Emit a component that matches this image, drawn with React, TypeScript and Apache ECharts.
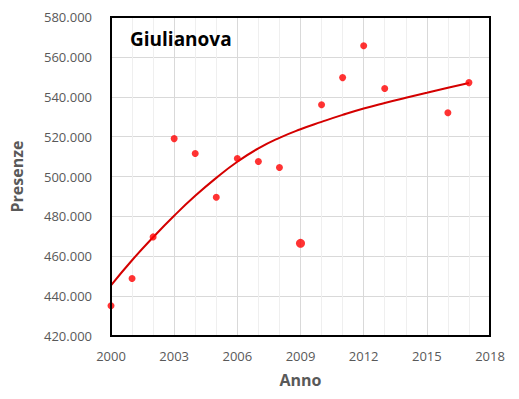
import React, { useEffect, useRef } from "react";
import * as echarts from "echarts";

const titleText = "Giulianova";
const xName = "Anno";
const yName = "Presenze";

const years = [2000, 2001, 2002, 2003, 2004, 2005, 2006, 2007, 2008, 2009, 2010, 2011, 2012, 2013, 2016, 2017];
const presenze = [435200, 448800, 469700, 519000, 511500, 489600, 509000, 507500, 504500, 466500, 536000, 549600, 565600, 544100, 532000, 547100];

const trendYears = [2000, 2001, 2002, 2003, 2004, 2005, 2006, 2007, 2008, 2009, 2010, 2011, 2012, 2013, 2014, 2015, 2016, 2017];
const trendValues = [445400, 458000, 469500, 480300, 490300, 499300, 507400, 514100, 519400, 523700, 527400, 530900, 534100, 536900, 539500, 542000, 544500, 546900];

const xMin = 2000, xMax = 2018, xStep = 3;
const yMin = 420000, yMax = 580000, yStep = 20000;

const fmt = (v: number) => String(v).replace(/\B(?=(\d{3})+(?!\d))/g, ".");

export default function App() {
  const ref = useRef<HTMLDivElement>(null);
  useEffect(() => {
    if (!ref.current) return;
    const chart = echarts.init(ref.current, undefined, { renderer: "svg" });
    const font = "'Open Sans', sans-serif";
    chart.setOption({
      animation: false,
      backgroundColor: "#ffffff",
      grid: { left: 111, top: 17, right: 29, bottom: 63, show: true, borderColor: "#000000", borderWidth: 2, backgroundColor: "transparent", z: 10 },
      graphic: [
        { type: "text", left: 130, top: 29, z: 100, style: { text: titleText, font: `bold 19px ${font}`, fill: "#000000" } },
      ],
      xAxis: {
        type: "value", min: xMin, max: xMax, interval: xStep,
        name: xName, nameLocation: "middle", nameGap: 36,
        nameTextStyle: { fontFamily: font, fontWeight: "bold", fontSize: 16, color: "#595959" },
        axisLine: { show: false }, axisTick: { show: false },
        axisLabel: { fontFamily: font, fontSize: 13, color: "#595959", margin: 13, formatter: (v: number) => String(v) },
        splitLine: { show: true, lineStyle: { color: "#d9d9d9", width: 1 } },
        minorTick: { show: false, splitNumber: 3 },
        minorSplitLine: { show: true, lineStyle: { color: "#efefef", width: 1 } },
      },
      yAxis: {
        type: "value", min: yMin, max: yMax, interval: yStep,
        name: yName, nameLocation: "middle", nameGap: 86,
        nameTextStyle: { fontFamily: font, fontWeight: "bold", fontSize: 16, color: "#595959" },
        axisLine: { show: false }, axisTick: { show: false },
        axisLabel: { fontFamily: font, fontSize: 13, color: "#595959", margin: 19, formatter: (v: number) => fmt(v) },
        splitLine: { show: true, lineStyle: { color: "#d9d9d9", width: 1 } },
      },
      series: [
        {
          type: "line", data: trendYears.map((y, i) => [y, trendValues[i]]),
          smooth: true, showSymbol: false, symbol: "none",
          lineStyle: { color: "#d40000", width: 2 }, z: 2, silent: true,
        },
        {
          type: "scatter", data: years.map((y, i) => ({ value: [y, presenze[i]], symbolSize: y === 2009 ? 9 : 7 })),
          itemStyle: { color: "#ff0000" }, z: 3,
        },
      ],
    });
    return () => chart.dispose();
  }, []);
  return <div ref={ref} style={{ position: "absolute", left: 0, top: 0, width: 519, height: 399 }} />;
}
